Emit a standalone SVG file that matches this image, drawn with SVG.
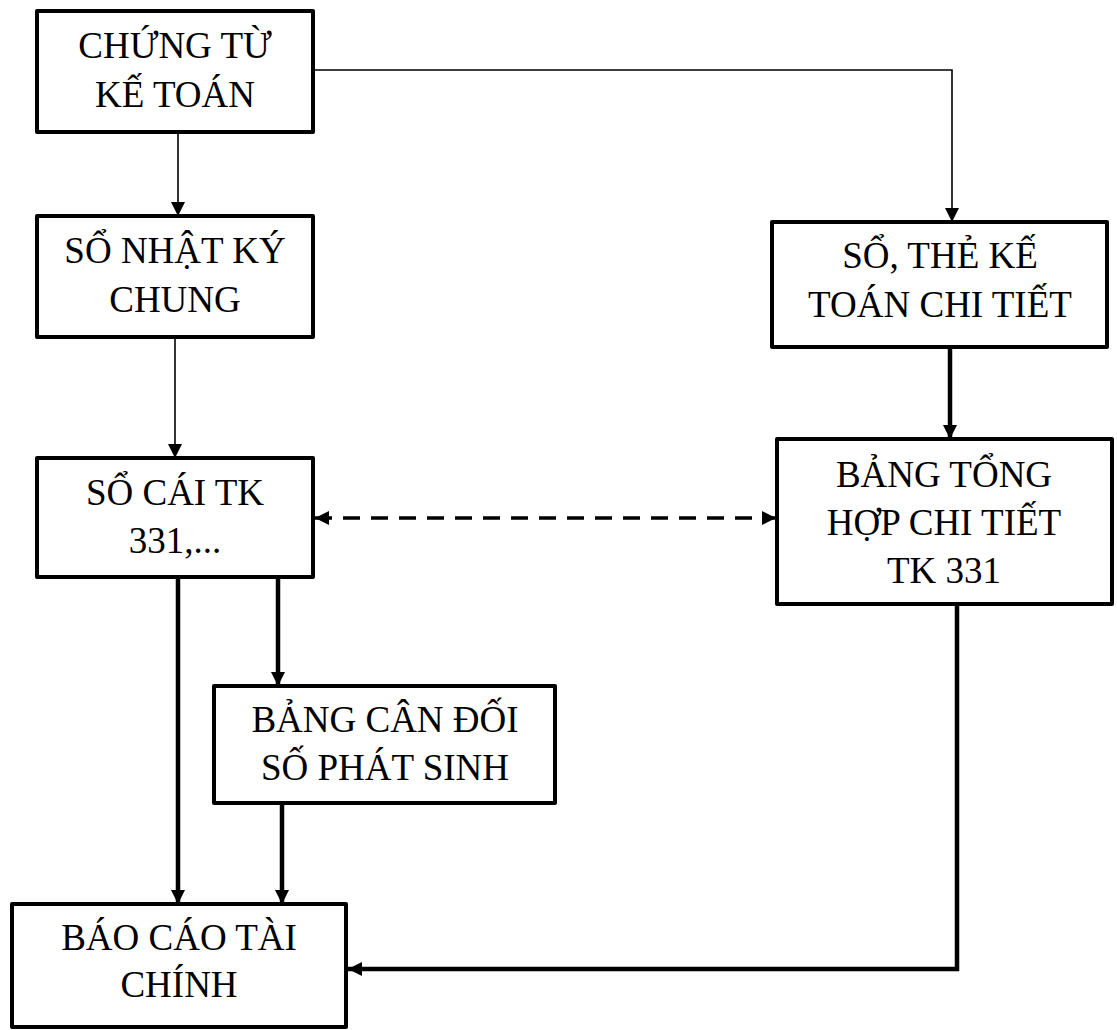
<svg xmlns="http://www.w3.org/2000/svg" width="1117" height="1030" viewBox="0 0 1117 1030">
<style>
.box{fill:#fff;stroke:#000;stroke-width:4;stroke-linejoin:round}
.t{font-family:"Liberation Serif","Times New Roman",serif;font-size:37px;fill:#000;text-anchor:middle}
.thin{fill:none;stroke:#000;stroke-width:1.6}
.thick{fill:none;stroke:#000;stroke-width:4.5}
.dash{fill:none;stroke:#000;stroke-width:3.5;stroke-dasharray:17 11}
</style>
<defs>
<marker id="ah" markerUnits="userSpaceOnUse" markerWidth="14" markerHeight="14" refX="14" refY="7" orient="auto"><path d="M0,0 L14,7 L0,14 z" fill="#000"/></marker>
<marker id="ahs" markerUnits="userSpaceOnUse" markerWidth="14" markerHeight="14" refX="14" refY="7" orient="auto-start-reverse"><path d="M0,0 L14,7 L0,14 z" fill="#000"/></marker>
</defs>
<g id="connectors">
<path class="thin" d="M178,132 V216" marker-end="url(#ah)"/>
<path class="thin" d="M313,70 H952 V222" marker-end="url(#ah)"/>
<path class="thin" d="M175,337 V458" marker-end="url(#ah)"/>
<path class="thick" d="M950,347 V439" marker-end="url(#ah)"/>
<path class="dash" d="M315,518 H776" marker-start="url(#ahs)" marker-end="url(#ahs)"/>
<path class="thick" d="M178,577 V904" marker-end="url(#ah)"/>
<path class="thick" d="M278,577 V686" marker-end="url(#ah)"/>
<path class="thick" d="M282,803 V904" marker-end="url(#ah)"/>
<path class="thick" d="M957,604 V969 H348" marker-end="url(#ah)"/>
</g>
<g id="n1"><rect class="box" x="37" y="11" width="276" height="121"/><text class="t" x="175" y="58">CHỨNG TỪ</text><text class="t" x="175" y="107">KẾ TOÁN</text></g>
<g id="n2"><rect class="box" x="37" y="216" width="276" height="121"/><text class="t" x="175" y="263">SỔ NHẬT KÝ</text><text class="t" x="175" y="312">CHUNG</text></g>
<g id="n3"><rect class="box" x="37" y="458" width="276" height="119"/><text class="t" x="175" y="505">SỔ CÁI TK</text><text class="t" x="175" y="553">331,...</text></g>
<g id="n4"><rect class="box" x="772" y="222" width="335" height="125"/><text class="t" x="940" y="268">SỔ, THẺ KẾ</text><text class="t" x="940" y="317">TOÁN CHI TIẾT</text></g>
<g id="n5"><rect class="box" x="777" y="439" width="335" height="165"/><text class="t" x="944" y="487">BẢNG TỔNG</text><text class="t" x="944" y="535">HỢP CHI TIẾT</text><text class="t" x="944" y="583">TK 331</text></g>
<g id="n6"><rect class="box" x="214" y="686" width="341" height="117"/><text class="t" x="385" y="732">BẢNG CÂN ĐỐI</text><text class="t" x="385" y="780">SỐ PHÁT SINH</text></g>
<g id="n7"><rect class="box" x="12" y="904" width="334" height="123"/><text class="t" x="179" y="950">BÁO CÁO TÀI</text><text class="t" x="179" y="997">CHÍNH</text></g>
</svg>
